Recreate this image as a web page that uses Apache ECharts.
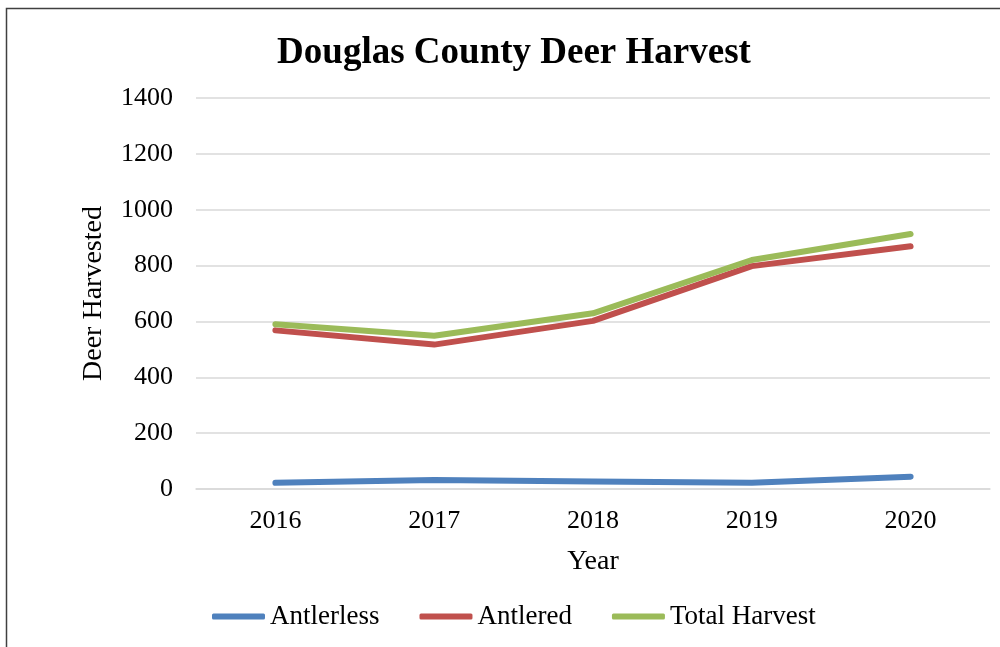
<!DOCTYPE html>
<html><head><meta charset="utf-8">
<script src="https://cdn.jsdelivr.net/npm/echarts@6/dist/echarts.min.js"></script>
<style>html,body{margin:0;padding:0;background:#fff}#c{width:1000px;height:647px}</style>
</head><body><div id="c"></div>
<script>
const years = ['2016','2017','2018','2019','2020'];
const antlerless = [22, 32, 27, 22, 44];
const antlered = [568, 517, 602, 798, 869];
const totalHarvest = [590, 549, 629, 820, 913];
const seriesNames = ['Antlerless','Antlered','Total Harvest'];
const colors = ['#4F81BD','#C0504D','#9BBB59'];
const font = 'Liberation Serif, Times New Roman, serif';

const chart = echarts.init(document.getElementById('c'), null, {renderer:'canvas'});
const mk = (name, data, color) => ({
  name, type:'line', data, symbol:'none', showSymbol:false,
  lineStyle:{color, width:6, cap:'round', join:'round'}, itemStyle:{color},
  animation:false
});
chart.setOption({
  animation:false,
  graphic:[{type:'rect', shape:{x:6.5, y:8.5, width:1100, height:1000},
    style:{fill:'none', stroke:'#404040', lineWidth:1.5}, silent:true}],
  title:{text:'Douglas County Deer Harvest', left:509, top:30, textAlign:'center',
    textStyle:{fontFamily:font, fontSize:37, fontWeight:'bold', color:'#000'}},
  legend:{top:598, left:207, itemWidth:53, itemHeight:6, itemGap:40,
    icon:'roundRect',
    data:seriesNames,
    textStyle:{fontFamily:font, fontSize:27, color:'#000'}},
  grid:{left:196, right:10, top:98, bottom:158, containLabel:false},
  xAxis:{type:'category', data:years, boundaryGap:true,
    name:'Year', nameLocation:'middle', nameGap:59,
    nameTextStyle:{fontFamily:font, fontSize:28, color:'#000'},
    axisLine:{show:true, lineStyle:{color:'#D9D9D9', width:1.5}},
    axisTick:{show:false},
    axisLabel:{fontFamily:font, fontSize:26, color:'#000', margin:19}},
  yAxis:{type:'value', min:0, max:1400, interval:200,
    name:'Deer Harvested', nameLocation:'middle', nameGap:88, nameRotate:90,
    nameTextStyle:{fontFamily:font, fontSize:28, color:'#000'},
    axisLine:{show:false}, axisTick:{show:false},
    axisLabel:{fontFamily:font, fontSize:26, color:'#000', margin:23,
      formatter:v=>String(v)},
    splitLine:{lineStyle:{color:'#D9D9D9', width:1.5}}},
  series:[mk(seriesNames[0], antlerless, colors[0]), mk(seriesNames[1], antlered, colors[1]), mk(seriesNames[2], totalHarvest, colors[2])]
});
</script></body></html>
